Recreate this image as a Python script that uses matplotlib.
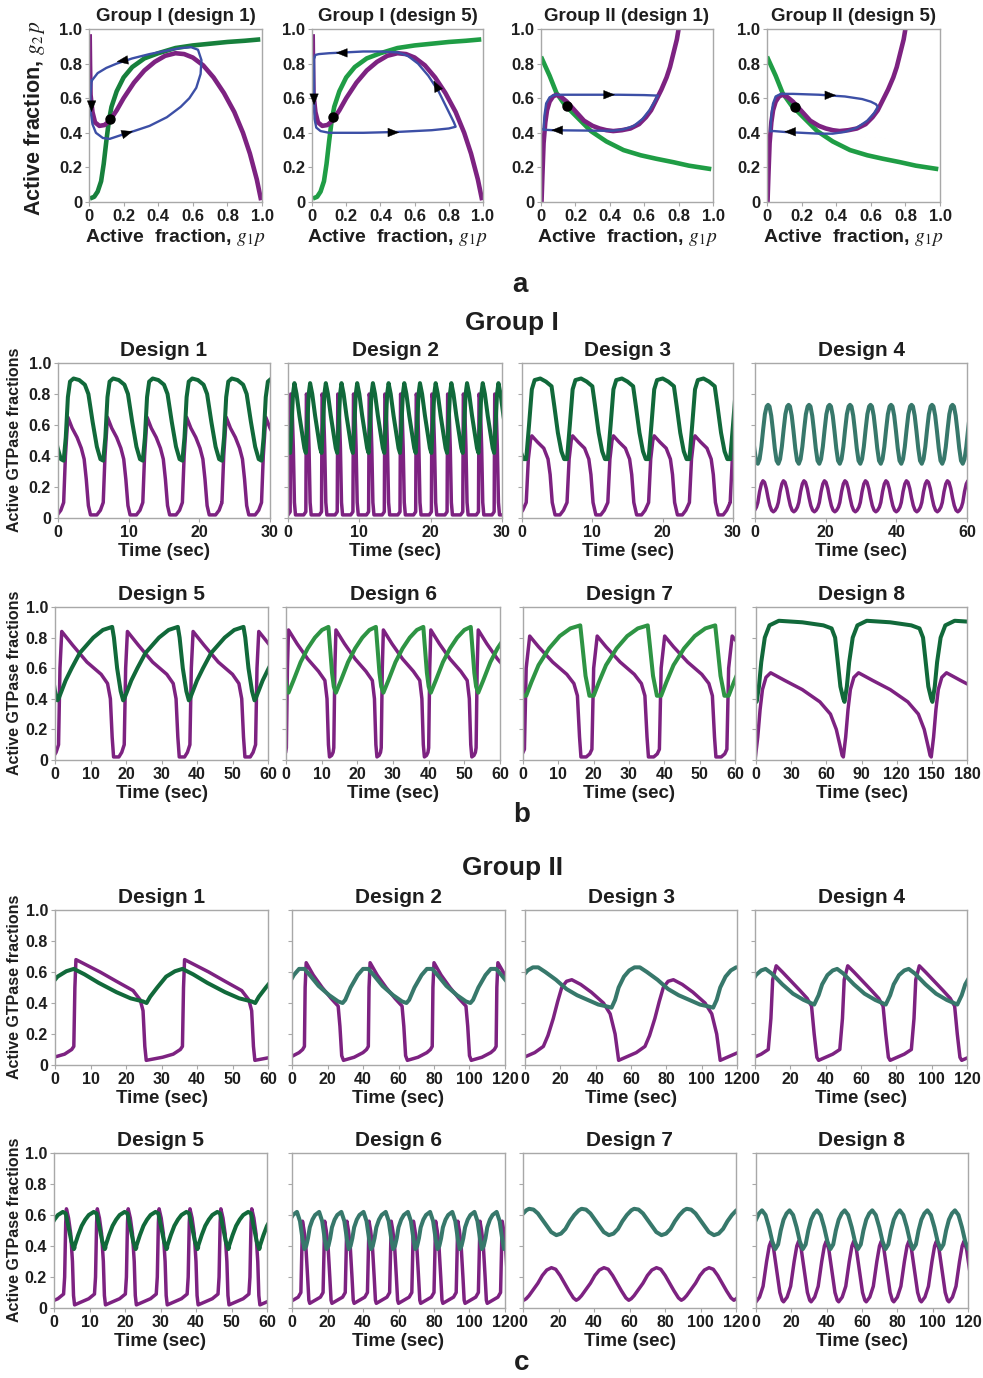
import numpy as np
import matplotlib
matplotlib.use("Agg")
import matplotlib.pyplot as plt

plt.rcParams['font.family'] = ['Liberation Sans', 'DejaVu Sans']
plt.rcParams['mathtext.fontset'] = 'stix'

PURPLE = '#7D2281'
DKGREEN = '#11693A'
LTGREEN = '#2E9444'
NCGREEN = '#1F9D45'
NCGREEN_DK = '#17803C'
TEAL = '#37786B'
BLUE = '#3C4FA6'
FRAME = '#A8A8A8'
TXT = '#1E1E1E'

# ------------------------------------------------------------------
# Panel a : phase planes (nullclines, limit cycles, fixed points)
# ------------------------------------------------------------------
gI_green_x = [0.005, 0.03, 0.05, 0.07, 0.085, 0.10, 0.115, 0.13, 0.16, 0.20, 0.25, 0.32, 0.40, 0.50, 0.60, 0.70, 0.80, 0.90, 0.99]
gI_green_y = [0.02, 0.03, 0.06, 0.12, 0.22, 0.35, 0.47, 0.55, 0.64, 0.72, 0.78, 0.83, 0.86, 0.89, 0.905, 0.915, 0.925, 0.932, 0.94]
gI_purple_x = [0.004, 0.006, 0.009, 0.02, 0.035, 0.06, 0.09, 0.12, 0.16, 0.20, 0.26, 0.32, 0.38, 0.44, 0.50, 0.55, 0.60, 0.66, 0.72, 0.78, 0.84, 0.89, 0.93, 0.97, 0.995]
gI_purple_y = [0.97, 0.80, 0.62, 0.52, 0.46, 0.44, 0.445, 0.47, 0.53, 0.60, 0.69, 0.76, 0.81, 0.845, 0.86, 0.855, 0.835, 0.79, 0.72, 0.63, 0.52, 0.40, 0.28, 0.13, 0.01]

gII_green_x = [0.0, 0.05, 0.09, 0.14, 0.19, 0.24, 0.29, 0.38, 0.48, 0.58, 0.67, 0.77, 0.86, 0.99]
gII_green_y = [0.84, 0.73, 0.63, 0.56, 0.51, 0.46, 0.41, 0.35, 0.30, 0.27, 0.25, 0.23, 0.21, 0.19]
gII_purple_x = [0.003, 0.008, 0.015, 0.025, 0.035, 0.05, 0.07, 0.09, 0.12, 0.15, 0.20, 0.25, 0.30, 0.34, 0.38, 0.42, 0.47, 0.52, 0.57, 0.61, 0.64, 0.67, 0.70, 0.73, 0.75, 0.77, 0.79, 0.80]
gII_purple_y = [0.0, 0.15, 0.34, 0.46, 0.53, 0.58, 0.61, 0.62, 0.605, 0.58, 0.525, 0.47, 0.44, 0.425, 0.415, 0.41, 0.415, 0.425, 0.45, 0.49, 0.53, 0.59, 0.65, 0.72, 0.78, 0.86, 0.94, 1.0]

a1_cycle_x = [0.015, 0.05, 0.10, 0.16, 0.25, 0.35, 0.45, 0.53, 0.59, 0.63, 0.65, 0.645, 0.62, 0.58, 0.53, 0.45, 0.35, 0.26, 0.18, 0.12, 0.08, 0.04, 0.02, 0.01, 0.008, 0.015]
a1_cycle_y = [0.70, 0.745, 0.775, 0.80, 0.83, 0.855, 0.875, 0.89, 0.895, 0.88, 0.82, 0.74, 0.66, 0.60, 0.55, 0.49, 0.44, 0.41, 0.385, 0.365, 0.37, 0.40, 0.45, 0.52, 0.62, 0.70]
a2_cycle_x = [0.012, 0.012, 0.015, 0.025, 0.05, 0.10, 0.30, 0.50, 0.70, 0.80, 0.84, 0.83, 0.79, 0.74, 0.68, 0.62, 0.56, 0.50, 0.40, 0.30, 0.20, 0.10, 0.04, 0.02, 0.012]
a2_cycle_y = [0.83, 0.62, 0.48, 0.43, 0.41, 0.40, 0.40, 0.405, 0.415, 0.425, 0.435, 0.46, 0.54, 0.64, 0.73, 0.80, 0.845, 0.865, 0.87, 0.87, 0.865, 0.86, 0.855, 0.85, 0.83]
a3_cycle_x = [0.015, 0.02, 0.03, 0.05, 0.08, 0.15, 0.30, 0.45, 0.60, 0.68, 0.66, 0.63, 0.59, 0.54, 0.48, 0.42, 0.35, 0.25, 0.15, 0.07, 0.03, 0.015]
a3_cycle_y = [0.42, 0.50, 0.57, 0.605, 0.62, 0.62, 0.62, 0.62, 0.618, 0.615, 0.58, 0.53, 0.48, 0.44, 0.42, 0.412, 0.412, 0.413, 0.414, 0.415, 0.417, 0.42]
a4_cycle_x = [0.02, 0.025, 0.035, 0.05, 0.08, 0.15, 0.30, 0.45, 0.55, 0.60, 0.63, 0.64, 0.62, 0.58, 0.52, 0.45, 0.38, 0.30, 0.20, 0.10, 0.04, 0.02]
a4_cycle_y = [0.41, 0.50, 0.57, 0.61, 0.625, 0.625, 0.62, 0.61, 0.595, 0.58, 0.565, 0.55, 0.515, 0.47, 0.43, 0.405, 0.395, 0.395, 0.40, 0.405, 0.41, 0.41]

a_fixed_x = [0.124, 0.12, 0.15, 0.16]
a_fixed_y = [0.48, 0.49, 0.555, 0.55]

# arrow heads: x, y, direction dx, dy
a1_arrows = [(0.19, 0.816, -1.0, -0.15), (0.015, 0.55, 0.0, -1.0), (0.225, 0.40, 1.0, 0.3)]
a2_arrows = [(0.17, 0.862, -1.0, 0.0), (0.012, 0.59, 0.0, -1.0), (0.48, 0.402, 1.0, 0.0), (0.725, 0.675, -0.5, 1.0)]
a3_arrows = [(0.40, 0.62, 1.0, 0.0), (0.09, 0.415, -1.0, 0.0)]
a4_arrows = [(0.37, 0.617, 1.0, 0.0), (0.13, 0.406, -1.0, 0.0)]

a_titles = ['Group I (design 1)', 'Group I (design 5)', 'Group II (design 1)', 'Group II (design 5)']

# ------------------------------------------------------------------
# Panels b, c : one period of each waveform (time in cycle, value),
# period (s) and start of first cycle (s)
# ------------------------------------------------------------------
# Group I
gI_d1_pt = [0, 0.25, 0.6, 1.2, 1.9, 2.5, 2.9, 3.2, 3.5, 3.8, 4.7, 5.2, 5.6]
gI_d1_p = [0.10, 0.40, 0.65, 0.58, 0.52, 0.45, 0.38, 0.25, 0.08, 0.02, 0.02, 0.05, 0.10]
gI_d1_gt = [0, 0.3, 0.6, 0.9, 1.4, 2.2, 3.0, 3.5, 4.1, 4.7, 5.2, 5.6]
gI_d1_g = [0.37, 0.52, 0.78, 0.88, 0.90, 0.89, 0.86, 0.80, 0.62, 0.46, 0.38, 0.37]
gI_d1_period, gI_d1_t0 = 5.6, -4.8

gI_d2_pt = [0, 0.08, 0.25, 0.45, 0.6, 0.75, 1.9, 2.2]
gI_d2_p = [0.04, 0.80, 0.76, 0.45, 0.10, 0.02, 0.02, 0.04]
gI_d2_gt = [0, 0.2, 0.4, 0.6, 0.9, 1.3, 1.7, 2.0, 2.2]
gI_d2_g = [0.42, 0.60, 0.80, 0.87, 0.80, 0.66, 0.54, 0.45, 0.42]
gI_d2_period, gI_d2_t0 = 2.2, -1.9

gI_d3_pt = [0, 0.3, 0.6, 0.8, 1.6, 2.5, 3.1, 3.4, 3.7, 4.1, 4.8, 5.3, 5.6, 5.8]
gI_d3_p = [0.10, 0.38, 0.50, 0.53, 0.49, 0.45, 0.38, 0.28, 0.10, 0.02, 0.02, 0.05, 0.08, 0.10]
gI_d3_gt = [0, 0.4, 0.8, 1.2, 2.0, 2.8, 3.6, 4.0, 4.5, 5.0, 5.4, 5.8]
gI_d3_g = [0.38, 0.60, 0.83, 0.89, 0.90, 0.88, 0.85, 0.72, 0.55, 0.43, 0.38, 0.38]
gI_d3_period, gI_d3_t0 = 5.8, -5.2

gI_d4_pt = [0, 0.5, 1.0, 1.45, 1.9, 2.4, 2.9, 3.4, 3.9, 4.4, 4.9, 5.4, 5.8]
gI_d4_p = [0.10, 0.17, 0.22, 0.24, 0.23, 0.19, 0.13, 0.08, 0.05, 0.04, 0.05, 0.07, 0.10]
gI_d4_gt = [0, 0.5, 1.0, 1.5, 2.0, 2.5, 2.9, 3.3, 3.8, 4.3, 4.8, 5.3, 5.8]
gI_d4_g = [0.35, 0.38, 0.46, 0.57, 0.67, 0.72, 0.73, 0.72, 0.66, 0.56, 0.45, 0.37, 0.35]
gI_d4_period, gI_d4_t0 = 5.8, -5.0

gI_d5_pt = [0, 0.4, 0.9, 4, 8, 12, 13.8, 14.6, 15.1, 15.5, 17, 17.8, 18.5]
gI_d5_p = [0.10, 0.60, 0.84, 0.75, 0.64, 0.56, 0.50, 0.40, 0.15, 0.02, 0.02, 0.05, 0.10]
gI_d5_gt = [0, 1, 2, 3.7, 6, 9.8, 12.5, 15.1, 15.6, 16.5, 17.5, 18.2, 18.5]
gI_d5_g = [0.40, 0.46, 0.52, 0.60, 0.70, 0.80, 0.85, 0.87, 0.80, 0.60, 0.45, 0.39, 0.40]
gI_d5_period, gI_d5_t0 = 18.5, -17.5

gI_d6_pt = [0, 0.3, 0.6, 3, 6, 9, 10.8, 11.4, 11.8, 12.1, 12.7, 13.1, 13.3]
gI_d6_p = [0.08, 0.60, 0.85, 0.76, 0.66, 0.58, 0.52, 0.40, 0.10, 0.02, 0.03, 0.05, 0.08]
gI_d6_gt = [0, 0.6, 2, 4, 6, 8, 10, 11.8, 12.3, 12.8, 13.3]
gI_d6_g = [0.48, 0.44, 0.52, 0.64, 0.73, 0.80, 0.85, 0.87, 0.72, 0.57, 0.48]
gI_d6_period, gI_d6_t0 = 13.3, -13.2

gI_d7_pt = [0, 0.5, 1.5, 4, 8, 12, 14, 15, 15.6, 16, 17.5, 18.5, 19.1]
gI_d7_p = [0.07, 0.60, 0.81, 0.74, 0.64, 0.56, 0.50, 0.42, 0.15, 0.02, 0.02, 0.04, 0.07]
gI_d7_gt = [0, 0.5, 2, 4, 7, 10, 13, 15.8, 16.4, 17.3, 18.4, 19.1]
gI_d7_g = [0.42, 0.42, 0.51, 0.62, 0.73, 0.81, 0.86, 0.88, 0.75, 0.55, 0.42, 0.42]
gI_d7_period, gI_d7_t0 = 19.1, -18.7

gI_d8_pt = [0, 2, 4, 6, 9, 13, 25, 40, 55, 64, 69, 72, 74, 75]
gI_d8_p = [0.02, 0.15, 0.33, 0.46, 0.54, 0.57, 0.52, 0.46, 0.38, 0.30, 0.20, 0.10, 0.03, 0.02]
gI_d8_gt = [0, 1, 3, 5, 8, 12, 20, 40, 58, 65, 68, 70, 72.5, 75]
gI_d8_g = [0.40, 0.38, 0.48, 0.64, 0.80, 0.88, 0.91, 0.90, 0.88, 0.86, 0.80, 0.66, 0.48, 0.40]
gI_d8_period, gI_d8_t0 = 75.0, -0.5

# Group II
gII_d1_pt = [0, 0.3, 0.6, 4, 7.4, 12, 16.7, 18.7, 19.5, 20.0, 20.4, 25, 28, 30, 30.6]
gII_d1_p = [0.12, 0.50, 0.68, 0.64, 0.60, 0.54, 0.48, 0.42, 0.35, 0.12, 0.03, 0.05, 0.07, 0.10, 0.12]
gII_d1_gt = [0, 3, 7, 12, 16, 19.5, 20.5, 21.5, 23.5, 26, 28.5, 30.6]
gII_d1_g = [0.62, 0.585, 0.53, 0.47, 0.43, 0.41, 0.40, 0.44, 0.50, 0.57, 0.605, 0.62]
gII_d1_period, gII_d1_t0 = 30.6, -25.3

gII_d2_pt = [0, 0.4, 1.0, 5, 10, 15, 19, 20, 21, 22, 28, 33, 35, 36]
gII_d2_p = [0.12, 0.50, 0.66, 0.58, 0.50, 0.43, 0.38, 0.25, 0.06, 0.03, 0.05, 0.08, 0.10, 0.12]
gII_d2_gt = [0, 3, 8, 14, 19, 21.5, 23, 26, 30, 33, 36]
gII_d2_g = [0.62, 0.58, 0.51, 0.45, 0.41, 0.40, 0.42, 0.50, 0.58, 0.62, 0.62]
gII_d2_period, gII_d2_t0 = 36.0, -29.0

gII_d3_pt = [0, 5, 10, 14.9, 17.5, 20.5, 23, 25.3, 28, 31, 36, 42, 48.9, 52.7, 55.5, 57.5]
gII_d3_p = [0.03, 0.055, 0.08, 0.12, 0.19, 0.30, 0.41, 0.50, 0.54, 0.55, 0.52, 0.47, 0.40, 0.33, 0.20, 0.03]
gII_d3_gt = [0, 3, 6, 9, 12, 16, 22, 28, 34, 40, 46, 50, 53.5, 55.5, 57.5]
gII_d3_g = [0.50, 0.57, 0.61, 0.63, 0.63, 0.60, 0.55, 0.49, 0.45, 0.42, 0.39, 0.38, 0.37, 0.42, 0.50]
gII_d3_period, gII_d3_t0 = 57.5, -4.5

gII_d4_pt = [0, 4, 8, 12, 13.5, 14.5, 16.5, 20, 25, 30, 34, 36.5, 38, 39.5, 40.5]
gII_d4_p = [0.03, 0.05, 0.07, 0.10, 0.30, 0.55, 0.64, 0.60, 0.54, 0.48, 0.43, 0.38, 0.20, 0.05, 0.03]
gII_d4_gt = [0, 2, 5, 8, 10.5, 14, 20, 26, 32, 36, 38, 40.5]
gII_d4_g = [0.45, 0.52, 0.58, 0.61, 0.62, 0.59, 0.52, 0.46, 0.42, 0.40, 0.39, 0.45]
gII_d4_period, gII_d4_t0 = 40.5, -4.5

gII_d5_pt = [0, 2, 4, 5.6, 5.9, 6.2, 6.4, 7.0, 7.6, 8.1, 8.4, 8.7]
gII_d5_p = [0.02, 0.04, 0.06, 0.09, 0.20, 0.55, 0.64, 0.58, 0.48, 0.30, 0.08, 0.02]
gII_d5_gt = [0, 1, 2, 3, 4, 5.4, 6.2, 7.0, 7.8, 8.5, 8.7]
gII_d5_g = [0.40, 0.47, 0.53, 0.57, 0.60, 0.62, 0.61, 0.52, 0.43, 0.38, 0.39]
gII_d5_period, gII_d5_t0 = 8.7, -2.9

gII_d6_pt = [0, 3, 6, 7.5, 8.0, 8.4, 9.3, 10.3, 11.3, 12.0, 12.5]
gII_d6_p = [0.03, 0.05, 0.07, 0.10, 0.35, 0.56, 0.50, 0.40, 0.20, 0.05, 0.03]
gII_d6_gt = [0, 1.5, 3, 5.3, 7, 8.5, 9.5, 10.5, 11.5, 12.5]
gII_d6_g = [0.52, 0.57, 0.60, 0.62, 0.56, 0.44, 0.38, 0.40, 0.45, 0.52]
gII_d6_period, gII_d6_t0 = 12.5, -2.5

gII_d7_pt = [0, 2.5, 5, 7.5, 10, 12.6, 15, 17.5, 20, 22.5, 25, 26.6, 28, 29.6]
gII_d7_p = [0.08, 0.12, 0.16, 0.21, 0.245, 0.26, 0.25, 0.21, 0.16, 0.11, 0.065, 0.05, 0.06, 0.08]
gII_d7_gt = [0, 2.5, 5, 7.5, 10, 12.5, 15.4, 18, 20.5, 23, 25.5, 28, 29.6]
gII_d7_g = [0.64, 0.635, 0.61, 0.57, 0.53, 0.49, 0.47, 0.48, 0.51, 0.56, 0.60, 0.63, 0.64]
gII_d7_period, gII_d7_t0 = 29.6, -26.2

gII_d8_pt = [0, 2, 4, 6, 7.5, 8.5, 10, 12, 13.5, 14.8, 15.6]
gII_d8_p = [0.04, 0.07, 0.14, 0.30, 0.40, 0.43, 0.38, 0.22, 0.10, 0.05, 0.04]
gII_d8_gt = [0, 1.7, 3.4, 5.4, 7.4, 9.2, 10.9, 12.5, 14, 15.6]
gII_d8_g = [0.57, 0.61, 0.63, 0.60, 0.52, 0.43, 0.38, 0.41, 0.50, 0.57]
gII_d8_period, gII_d8_t0 = 15.6, 0.0

# axis ranges / ticks
ticks30 = [0, 10, 20, 30]
ticks60a = [0, 20, 40, 60]
ticks60 = [0, 10, 20, 30, 40, 50, 60]
ticks120 = [0, 20, 40, 60, 80, 100, 120]
ticks180 = [0, 30, 60, 90, 120, 150, 180]
yticks = [0, 0.2, 0.4, 0.6, 0.8, 1.0]
ytick_labels = ['0', '0.2', '0.4', '0.6', '0.8', '1.0']

# ------------------------------------------------------------------
W, H = 983, 1378
fig = plt.figure(figsize=(W / 100, H / 100), dpi=100)


def add_ax(l, r, t, b):
    return fig.add_axes([l / W, 1 - b / H, (r - l) / W, (b - t) / H])


def frame(ax, fs):
    for s in ax.spines.values():
        s.set_color(FRAME)
        s.set_linewidth(1.0)
    ax.tick_params(direction='out', length=3, width=0.8, color=FRAME,
                   labelcolor=TXT, pad=2, labelsize=fs)
    for lab in ax.get_xticklabels() + ax.get_yticklabels():
        lab.set_fontweight('bold')


def tile(tau, vals, period, t0, tmax):
    tau = np.asarray(tau, float)
    vals = np.asarray(vals, float)
    ts, vs = [], []
    k = 0
    while t0 + k * period <= tmax + period:
        ts.append(t0 + k * period + tau)
        vs.append(vals)
        k += 1
    return np.concatenate(ts), np.concatenate(vs)


# ---------------- panel a ----------------
a_rects = [(89, 262, 29, 202), (312, 483, 29, 202), (541, 713, 29, 202), (767, 940, 29, 202)]
a_nullclines = [(gI_green_x, gI_green_y, gI_purple_x, gI_purple_y)] * 2 + \
               [(gII_green_x, gII_green_y, gII_purple_x, gII_purple_y)] * 2
a_green_cols = [NCGREEN_DK, NCGREEN, NCGREEN, NCGREEN]
a_cycles = [(a1_cycle_x, a1_cycle_y), (a2_cycle_x, a2_cycle_y),
            (a3_cycle_x, a3_cycle_y), (a4_cycle_x, a4_cycle_y)]
a_arrows = [a1_arrows, a2_arrows, a3_arrows, a4_arrows]

for i in range(4):
    ax = add_ax(*a_rects[i])
    gx, gy, px, py = a_nullclines[i]
    ax.plot(gx, gy, color=a_green_cols[i], lw=3.3, solid_capstyle='butt')
    ax.plot(px, py, color=PURPLE, lw=3.3, solid_capstyle='butt')
    ax.plot(a_cycles[i][0], a_cycles[i][1], color=BLUE, lw=1.7, solid_joinstyle='round')
    for (x, y, dx, dy) in a_arrows[i]:
        n = np.hypot(dx, dy)
        ux, uy = dx / n, dy / n
        ax.annotate('', xy=(x + ux * 0.03, y + uy * 0.03), xytext=(x - ux * 0.03, y - uy * 0.03),
                    arrowprops=dict(arrowstyle='-|>,head_length=0.55,head_width=0.22',
                                    color='black', lw=0.3, shrinkA=0, shrinkB=0,
                                    mutation_scale=14))
    ax.plot([a_fixed_x[i]], [a_fixed_y[i]], 'o', color='black', ms=6.5, zorder=5)
    ax.set_xlim(0, 1)
    ax.set_ylim(0, 1)
    ax.set_xticks(yticks)
    ax.set_xticklabels(ytick_labels)
    ax.set_yticks(yticks)
    ax.set_yticklabels(ytick_labels)
    frame(ax, 12)
    ax.set_title(a_titles[i], fontsize=13.5, fontweight='bold', color=TXT, pad=6)
    ax.set_xlabel(r'Active  fraction, $g_1p$', fontsize=14, fontweight='bold', color=TXT, labelpad=2)

fig.text(35 / W, 1 - 118 / H, r'Active fraction, $g_2\,p$', rotation=90, ha='center', va='center',
         fontsize=15.5, fontweight='bold', color=TXT)
fig.text(520 / W, 1 - 285 / H, 'a', ha='center', va='center', fontsize=20, fontweight='bold', color=TXT)

# ---------------- panels b and c ----------------
b_panels = [
    ((58, 270, 363, 518), 'Design 1', 30, ticks30, gI_d1_pt, gI_d1_p, gI_d1_gt, gI_d1_g, gI_d1_period, gI_d1_t0, DKGREEN),
    ((288, 502, 363, 518), 'Design 2', 30, ticks30, gI_d2_pt, gI_d2_p, gI_d2_gt, gI_d2_g, gI_d2_period, gI_d2_t0, DKGREEN),
    ((522, 733, 363, 518), 'Design 3', 30, ticks30, gI_d3_pt, gI_d3_p, gI_d3_gt, gI_d3_g, gI_d3_period, gI_d3_t0, DKGREEN),
    ((755, 967, 363, 518), 'Design 4', 60, ticks60a, gI_d4_pt, gI_d4_p, gI_d4_gt, gI_d4_g, gI_d4_period, gI_d4_t0, TEAL),
    ((55, 268, 607, 760), 'Design 5', 60, ticks60, gI_d5_pt, gI_d5_p, gI_d5_gt, gI_d5_g, gI_d5_period, gI_d5_t0, DKGREEN),
    ((286, 500, 607, 760), 'Design 6', 60, ticks60, gI_d6_pt, gI_d6_p, gI_d6_gt, gI_d6_g, gI_d6_period, gI_d6_t0, LTGREEN),
    ((523, 735, 607, 760), 'Design 7', 60, ticks60, gI_d7_pt, gI_d7_p, gI_d7_gt, gI_d7_g, gI_d7_period, gI_d7_t0, LTGREEN),
    ((756, 967, 607, 760), 'Design 8', 180, ticks180, gI_d8_pt, gI_d8_p, gI_d8_gt, gI_d8_g, gI_d8_period, gI_d8_t0, DKGREEN),
]
c_panels = [
    ((55, 268, 910, 1065), 'Design 1', 60, ticks60, gII_d1_pt, gII_d1_p, gII_d1_gt, gII_d1_g, gII_d1_period, gII_d1_t0, DKGREEN),
    ((292, 505, 910, 1065), 'Design 2', 120, ticks120, gII_d2_pt, gII_d2_p, gII_d2_gt, gII_d2_g, gII_d2_period, gII_d2_t0, TEAL),
    ((525, 737, 910, 1065), 'Design 3', 120, ticks120, gII_d3_pt, gII_d3_p, gII_d3_gt, gII_d3_g, gII_d3_period, gII_d3_t0, TEAL),
    ((755, 967, 910, 1065), 'Design 4', 120, ticks120, gII_d4_pt, gII_d4_p, gII_d4_gt, gII_d4_g, gII_d4_period, gII_d4_t0, TEAL),
    ((54, 267, 1153, 1308), 'Design 5', 60, ticks60, gII_d5_pt, gII_d5_p, gII_d5_gt, gII_d5_g, gII_d5_period, gII_d5_t0, DKGREEN),
    ((292, 505, 1153, 1308), 'Design 6', 120, ticks120, gII_d6_pt, gII_d6_p, gII_d6_gt, gII_d6_g, gII_d6_period, gII_d6_t0, TEAL),
    ((523, 736, 1153, 1308), 'Design 7', 120, ticks120, gII_d7_pt, gII_d7_p, gII_d7_gt, gII_d7_g, gII_d7_period, gII_d7_t0, TEAL),
    ((756, 968, 1153, 1308), 'Design 8', 120, ticks120, gII_d8_pt, gII_d8_p, gII_d8_gt, gII_d8_g, gII_d8_period, gII_d8_t0, TEAL),
]

for idx, spec in enumerate(b_panels + c_panels):
    rect, title, tmax, xt, pt, p, gt, g, period, t0, gcol = spec
    ax = add_ax(*rect)
    tp, vp = tile(pt, p, period, t0, tmax)
    tg, vg = tile(gt, g, period, t0, tmax)
    ax.plot(tp, vp, color=PURPLE, lw=2.5, solid_joinstyle='round')
    ax.plot(tg, vg, color=gcol, lw=2.9, solid_joinstyle='round')
    ax.set_xlim(0, tmax)
    ax.set_ylim(0, 1)
    ax.set_xticks(xt)
    ax.set_xticklabels([str(v) for v in xt])
    ax.set_yticks(yticks)
    if idx % 4 == 0:
        ax.set_yticklabels(ytick_labels)
    else:
        ax.set_yticklabels([])
    frame(ax, 11.5)
    ax.set_title(title, fontsize=15, fontweight='bold', color=TXT, pad=5)
    ax.set_xlabel('Time (sec)', fontsize=13.5, fontweight='bold', color=TXT, labelpad=2)

for yc in [440, 683, 987, 1230]:
    fig.text(15 / W, 1 - yc / H, 'Active GTPase fractions', rotation=90, ha='center', va='center',
             fontsize=11.5, fontweight='bold', color=TXT)

fig.text(512 / W, 1 - 323 / H, 'Group I', ha='center', va='center', fontsize=19, fontweight='bold', color=TXT)
fig.text(512 / W, 1 - 868 / H, 'Group II', ha='center', va='center', fontsize=19, fontweight='bold', color=TXT)
fig.text(522 / W, 1 - 815 / H, 'b', ha='center', va='center', fontsize=20, fontweight='bold', color=TXT)
fig.text(522 / W, 1 - 1363 / H, 'c', ha='center', va='center', fontsize=20, fontweight='bold', color=TXT)

fig.savefig('out.png', dpi=100)
